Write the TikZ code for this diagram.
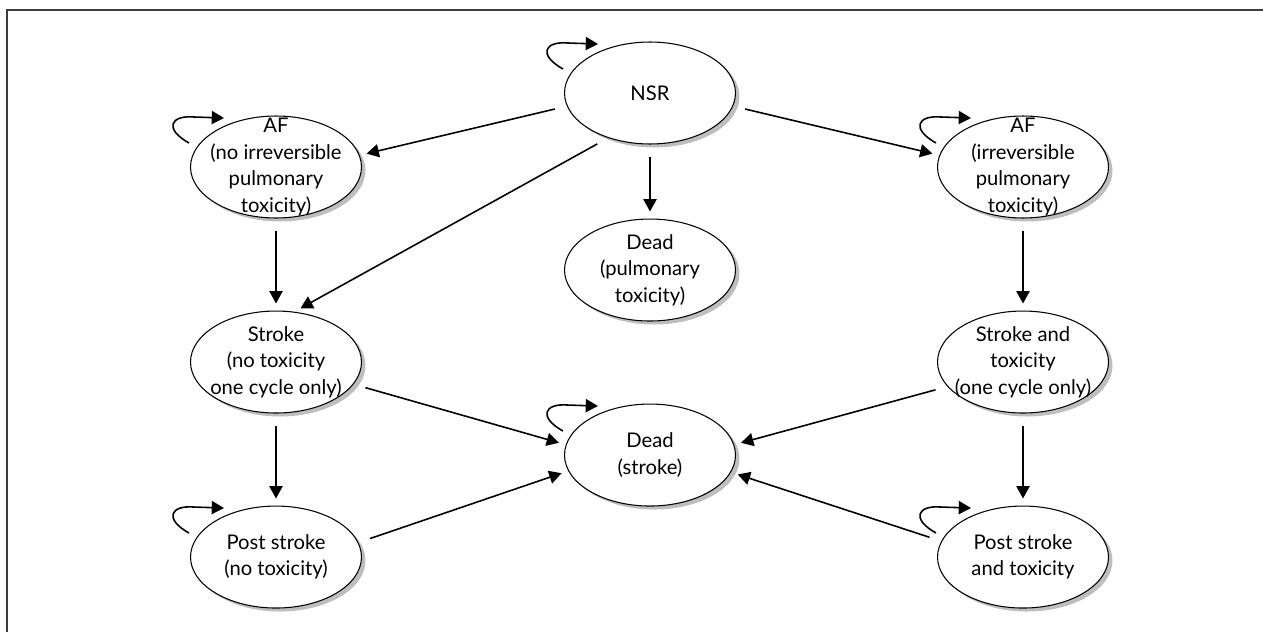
\documentclass[tikz,border=0pt]{standalone}
\usepackage{fontspec}
\setmainfont{Lato}
\usetikzlibrary{shapes.geometric, arrows.meta, positioning, calc, shadows}
\definecolor{shadowgray}{RGB}{190,190,190}
\definecolor{framegray}{RGB}{60,60,60}

\begin{document}
\begin{tikzpicture}[x=0.02cm, y=-0.02cm,
    state/.style={ellipse, draw, line width=0.6pt, fill=white, inner sep=0pt, minimum width=3.42cm, minimum height=2.04cm,
        drop shadow={shadow xshift=0.08cm, shadow yshift=-0.07cm, fill=shadowgray, opacity=1}},
    txt/.style={align=center, inner sep=0pt, font=\fontsize{11.5}{15}\selectfont},
    arrow/.style={-{Triangle[length=7pt,width=7.5pt]}, line width=0.9pt, shorten <=7pt, shorten >=4pt},
    frame/.style={line width=0.9pt, draw=framegray}]

    \useasboundingbox (0,0) rectangle (1263,632);
    \draw [frame] (7,632) -- (7,10) -- (1263,10);

    \node [state, label={[txt]center:NSR}] (nsr) at (650,93) {};
    \node [state, label={[txt]center:AF\\(no irreversible\\pulmonary\\toxicity)}] (afn) at (276,167) {};
    \node [state, label={[txt]center:AF\\(irreversible\\pulmonary\\toxicity)}] (afi) at (1023,167) {};
    \node [state, below=1.48cm of nsr, label={[txt]center:Dead\\(pulmonary\\toxicity)}] (dpul) {};
    \node [state, below=1.84cm of afn, label={[txt]center:Stroke\\(no toxicity\\one cycle only)}] (stroke) {};
    \node [state, below=1.84cm of afi, label={[txt]center:Stroke and\\toxicity\\(one cycle only)}] (strtox) {};
    \node [state, below=1.64cm of dpul, label={[txt]center:Dead\\(stroke)}] (dstroke) {};
    \node [state, below=1.84cm of stroke, label={[txt]center:Post stroke\\(no toxicity)}] (pstn) {};
    \node [state, below=1.84cm of strtox, label={[txt]center:Post stroke\\and toxicity}] (pstt) {};

    % staying in the same state
    \foreach \s in {nsr, afn, afi, dstroke, pstn, pstt}
        \draw [-{Triangle[length=7pt,width=7.5pt]}, line width=0.9pt]
            ($(\s)+(-87,-24)$) .. controls ($(\s)+(-112,-38)$) and ($(\s)+(-106,-52)$) .. ($(\s)+(-82,-50)$) -- ($(\s)+(-52,-49)$);

    \draw [arrow] (nsr.189) -- (afn.8);
    \draw [arrow] (nsr.227) -- (stroke.70);
    \draw [arrow] (nsr.south) -- (dpul.north);
    \draw [arrow] (nsr.-9) -- (afi.172);
    \draw [arrow] (afn.south) -- (stroke.north);
    \draw [arrow] (afi.south) -- (strtox.north);
    \draw [arrow] (stroke.-16) -- (dstroke.173);
    \draw [arrow] (strtox.198) -- (dstroke.7);
    \draw [arrow] (stroke.south) -- (pstn.north);
    \draw [arrow] (strtox.south) -- (pstt.north);
    \draw [arrow] (pstn.10) -- (dstroke.191);
    \draw [arrow] (pstt.169) -- (dstroke.-12);

\end{tikzpicture}
\end{document}
